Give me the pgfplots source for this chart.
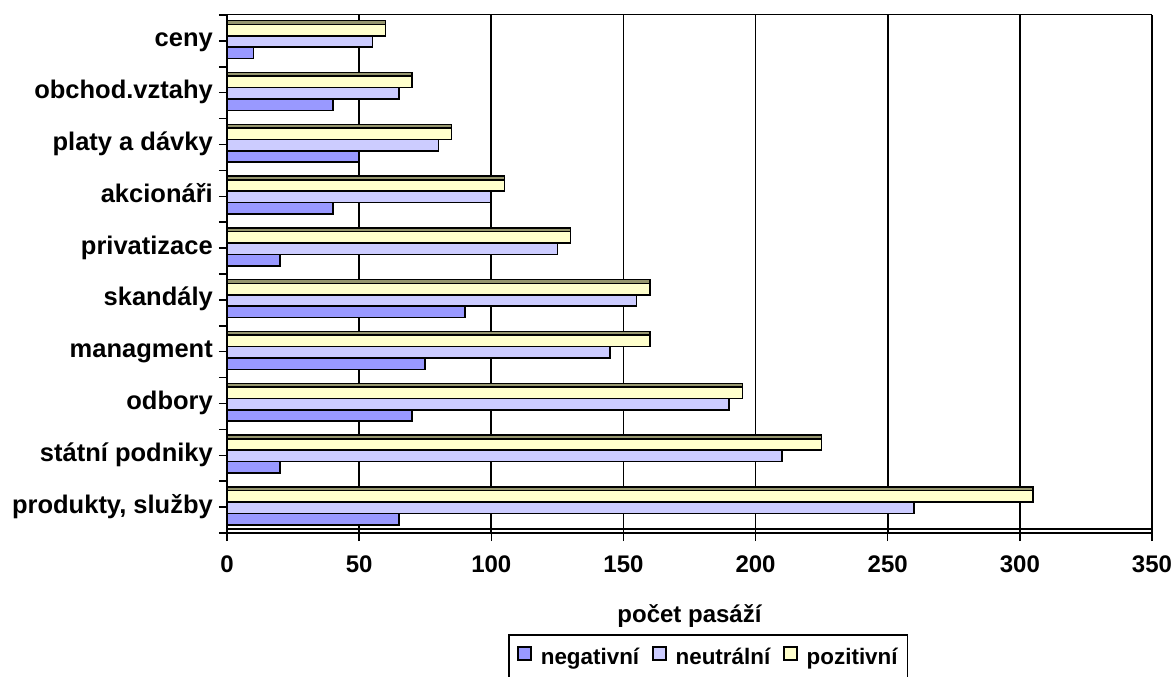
\documentclass[border=0pt]{standalone}
\usepackage{pgfplots}
\pgfplotsset{compat=1.18}
\usepackage{fontspec}
\setmainfont{Liberation Sans}
\definecolor{neg}{HTML}{9999FF}
\definecolor{neu}{HTML}{CCCCFF}
\definecolor{poz}{HTML}{FFFFCC}
\definecolor{oli}{RGB}{150,150,110}
\newcommand{\lf}{\fontsize{24}{28}\selectfont\bfseries}
\newcommand{\cf}{\fontsize{25.5}{29}\selectfont\bfseries}
\newcommand{\gf}{\fontsize{22.4}{27}\selectfont\bfseries}
\begin{document}
\begin{tikzpicture}
\useasboundingbox (-227pt,-144pt) rectangle (946pt,533pt);
\begin{axis}[
  at={(0pt,0pt)}, anchor=south west,
  scale only axis, width=925pt, height=518pt,
  xmin=0, xmax=350, ymin=-0.5, ymax=9.5,
  xtick={0,50,...,350},
  ytick={0,...,9},
  yticklabels={{produkty, služby},{státní podniky},{odbory},{managment},{skandály},{privatizace},{akcionáři},{platy a dávky},{obchod.vztahy},{ceny}},
  minor ytick={-0.5,0.5,...,9.5},
  tick align=outside, major tick length=8pt, minor tick length=8pt,
  xtick pos=bottom, ytick pos=left,
  tick style={black, line width=1.5pt},
  xmajorgrids, grid style={black, line width=1.8pt},
  axis line style={draw=none},
  /pgf/number format/assume math mode=true,
  xticklabel style={font=\lf, anchor=base, inner sep=0pt, yshift=-31pt},
  yticklabel style={font=\cf, anchor=base east, inner sep=0pt, xshift=-6pt, yshift=-6pt},
  xlabel={počet pasáží},
  xlabel style={font=\lf, at={(axis description cs:0.5,0)}, anchor=base, yshift=-89pt},
  legend columns=3,
  legend style={at={(axis description cs:0.5205,-0.195)}, anchor=north, draw=black, line width=1.7pt, font=\gf,
    nodes={inner sep=2pt},
    /tikz/every odd column/.append style={column sep=7pt},
    /tikz/every even column/.append style={column sep=11pt},
    inner xsep=8pt, inner ysep=11pt},
]
\addplot[xbar, bar width=0.22, bar shift=-0.23, fill=neg, draw=black, line width=1.6pt,
  legend image code/.code={\draw[fill=neg,draw=black,line width=1.5pt] (0pt,-3pt) rectangle (13pt,10pt);}]
  coordinates {(65,0) (20,1) (70,2) (75,3) (90,4) (20,5) (40,6) (50,7) (40,8) (10,9)};
\addlegendentry{negativní}
\addplot[xbar, bar width=0.22, bar shift=-0.01, fill=neu, draw=black, line width=1.6pt,
  legend image code/.code={\draw[fill=neu,draw=black,line width=1.5pt] (0pt,-3pt) rectangle (13pt,10pt);}]
  coordinates {(260,0) (210,1) (190,2) (145,3) (155,4) (125,5) (100,6) (80,7) (65,8) (55,9)};
\addlegendentry{neutrální}
\addplot[xbar, bar width=0.22, bar shift=0.21, fill=poz, draw=black, line width=1.6pt,
  legend image code/.code={\draw[fill=poz,draw=black,line width=1.5pt] (0pt,-3pt) rectangle (13pt,10pt);}]
  coordinates {(305,0) (225,1) (195,2) (160,3) (160,4) (130,5) (105,6) (85,7) (70,8) (60,9)};
\addlegendentry{pozitivní}
\addplot[xbar, bar width=0.07, bar shift=0.355, fill=oli, draw=black, line width=1.5pt, forget plot]
  coordinates {(305,0) (225,1) (195,2) (160,3) (160,4) (130,5) (105,6) (85,7) (70,8) (60,9)};
\end{axis}
\draw[black, line width=2.5pt] (0pt,0pt) -- (0pt,518pt);
\draw[black, line width=2pt] (0pt,0pt) -- (925pt,0pt);
\draw[black, line width=1.7pt] (0pt,4pt) -- (925pt,4pt);
\draw[black, line width=1pt] (0pt,518pt) -- (925pt,518pt);
\draw[black, line width=2pt] (925pt,0pt) -- (925pt,518pt);
\end{tikzpicture}
\end{document}
